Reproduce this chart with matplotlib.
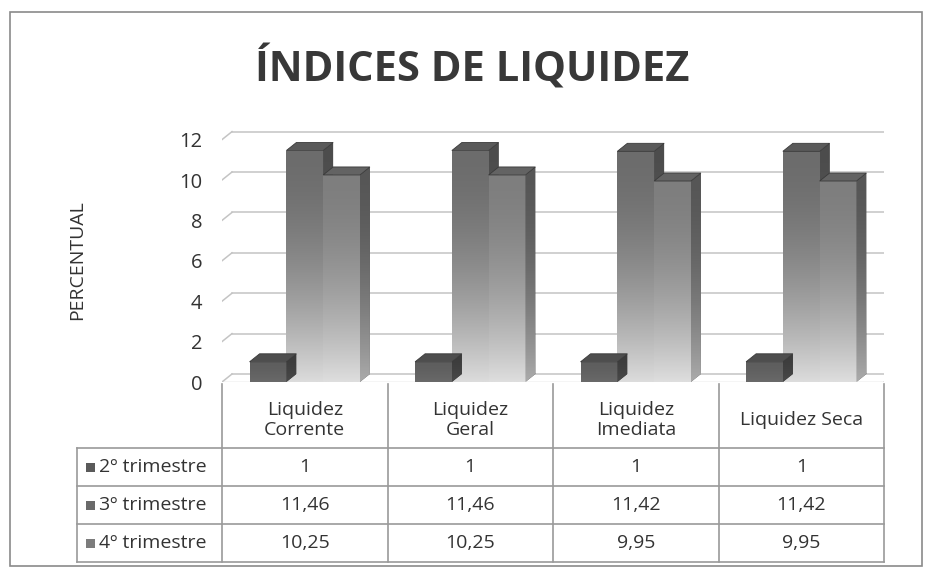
import numpy as np
import matplotlib
matplotlib.use("Agg")
import matplotlib.pyplot as plt
from matplotlib.patches import Polygon, Rectangle
from matplotlib import transforms
from matplotlib.colors import to_rgb

# ---------------- data ----------------
title = "ÍNDICES DE LIQUIDEZ"
ylabel = "PERCENTUAL"
categories = ["Liquidez\nCorrente", "Liquidez\nGeral", "Liquidez\nImediata", "Liquidez Seca"]
series_names = ["2º trimestre", "3º trimestre", "4º trimestre"]
values_2tri = [1, 1, 1, 1]
values_3tri = [11.46, 11.46, 11.42, 11.42]
values_4tri = [10.25, 10.25, 9.95, 9.95]
yticks = [0, 2, 4, 6, 8, 10, 12]

series_values = [values_2tri, values_3tri, values_4tri]

# ---------------- styles ----------------
plt.rcParams['font.family'] = ['Open Sans', 'DejaVu Sans']
W, H = 931, 571
fig = plt.figure(figsize=(W / 100, H / 100), dpi=100)
fig.patch.set_facecolor('white')

# overlay axes in pixel coords
ov = fig.add_axes([0, 0, 1, 1])
ov.set_xlim(0, W)
ov.set_ylim(H, 0)
ov.axis('off')
ov.set_zorder(0)

# main plot axes: front plane, x -0.5..3.5 -> 222..884 px, y 0 at 382px, 20.2 px/unit
px_unit = 20.2
y0_px = 382
ytop = 12.9
left_px, right_px = 222, 884
ax = fig.add_axes([left_px / W, 1 - y0_px / H, (right_px - left_px) / W,
                   ytop * px_unit / H])
ax.set_zorder(1)
ax.patch.set_alpha(0)
ncat = len(categories)
ax.set_xlim(-0.5, ncat - 0.5)
ax.set_ylim(0, ytop)
for s in ax.spines.values():
    s.set_visible(False)
ax.set_xticks([])
ax.set_yticks(yticks)
ax.set_yticklabels([str(t) for t in yticks])
ax.tick_params(axis='y', length=0, pad=14, labelsize=14.5, labelcolor='#333333')

cat_px = (right_px - left_px) / ncat
dx = 10 / cat_px          # depth offset in category units
dy = 8 / px_unit          # depth offset in value units

grid_col = '#c4c4c4'
# back wall gridlines
for t in yticks:
    ax.plot([-0.5 + dx, ncat - 0.5 + dx], [t + dy, t + dy], color=grid_col, lw=1.1, zorder=1)
    ax.plot([-0.5, -0.5 + dx], [t, t + dy], color=grid_col, lw=1.1, zorder=1)
# floor front edge
ax.plot([-0.5, ncat - 0.5], [0, 0], color='#d0d0d0', lw=1.0, zorder=1)
ax.plot([ncat - 0.5, ncat - 0.5 + dx], [0, dy], color='#d0d0d0', lw=1.0, zorder=1)

# bar geometry
nser = len(series_values)
bw = 1 / 4.5
front_cols = [('#5e5e5e', '#6a6a6a'), ('#6c6c6c', '#dcdcdc'), ('#7e7e7e', '#dedede')]
side_cols = [('#3c3c3c', '#4a4a4a'), ('#4c4c4c', '#a8a8a8'), ('#565656', '#ababab')]
top_cols = ['#4e4e4e', '#5a5a5a', '#636363']


def grad_img(c_top, c_bot, n=200, power=1.8):
    a = np.array(to_rgb(c_top))
    b = np.array(to_rgb(c_bot))
    t = np.linspace(0, 1, n) ** power
    arr = a[None, :] * (1 - t[:, None]) + b[None, :] * t[:, None]
    return arr[:, None, :]


def draw_bar(x0, h, k, z):
    x1 = x0 + bw
    bars = ax.bar([x0 + bw / 2], [h], width=bw, color=front_cols[k][0],
                  edgecolor='none', zorder=z)
    front = bars[0]
    im = ax.imshow(grad_img(*front_cols[k]), extent=(x0, x1, 0, h), origin='upper',
                   aspect='auto', zorder=z + 0.1, interpolation='bilinear')
    im.set_clip_path(front)
    side = Polygon([(x1, 0), (x1 + dx, dy), (x1 + dx, h + dy), (x1, h)],
                   closed=True, facecolor=side_cols[k][0], edgecolor='none', zorder=z)
    ax.add_patch(side)
    im2 = ax.imshow(grad_img(*side_cols[k]), extent=(x1, x1 + dx, 0, h + dy), origin='upper',
                    aspect='auto', zorder=z + 0.1, interpolation='bilinear')
    im2.set_clip_path(side)
    top = Polygon([(x0, h), (x0 + dx, h + dy), (x1 + dx, h + dy), (x1, h)],
                  closed=True, facecolor=top_cols[k], edgecolor='#3a3a3a', lw=0.6,
                  zorder=z + 0.2)
    ax.add_patch(top)


order = [1, 2, 0]
for i in range(ncat):
    for rank, k in enumerate(order):
        x0 = i - 1.5 * bw + k * bw
        draw_bar(x0, series_values[k][i], k, 2 + rank)

ax.set_xlim(-0.5, ncat - 0.5)
ax.set_ylim(0, ytop)

# ---------------- outer border & title ----------------
ov.add_patch(Rectangle((10, 12), 912, 554, fill=False, edgecolor='#8a8a8a', lw=1.2))
ov.text(472, 69, title, ha='center', va='center', fontsize=30, fontweight='bold',
        color='#383838')
ov.text(77, 260, ylabel, ha='center', va='center', rotation=90, fontsize=14,
        color='#333333')

# ---------------- data table ----------------
bt = transforms.blended_transform_factory(ax.transData, ov.transData)
tab_col = '#9a9a9a'
row_lines = [448, 486, 524, 562]
table_top = 384
label_left = 77
col_edges = [i - 0.5 for i in range(ncat + 1)]
fs_tab = 14
# vertical lines
for e in col_edges:
    ov.plot([e, e], [table_top, row_lines[-1]], color=tab_col, lw=1.2, transform=bt)
ov.plot([label_left, label_left], [row_lines[0], row_lines[-1]], color=tab_col, lw=1.2)
# horizontal lines
for r in row_lines:
    ov.plot([label_left, right_px], [r, r], color=tab_col, lw=1.2)
# header labels
for i, c in enumerate(categories):
    ov.text(i, 420, c, ha='center', va='center', fontsize=fs_tab, color='#333333',
            transform=bt, linespacing=1.15)
# rows
for k, name in enumerate(series_names):
    yc = (row_lines[k] + row_lines[k + 1]) / 2
    ov.add_patch(Rectangle((86, yc - 4), 9, 9, facecolor=['#5a5a5a', '#6a6a6a', '#7c7c7c'][k],
                           edgecolor='none'))
    ov.text(99, yc, name, ha='left', va='center', fontsize=fs_tab, color='#333333')
    for i, v in enumerate(series_values[k]):
        s = f"{v:g}".replace('.', ',')
        ov.text(i, yc, s, ha='center', va='center', fontsize=fs_tab, color='#333333',
                transform=bt)

fig.savefig('out.png', dpi=100, facecolor='white')
